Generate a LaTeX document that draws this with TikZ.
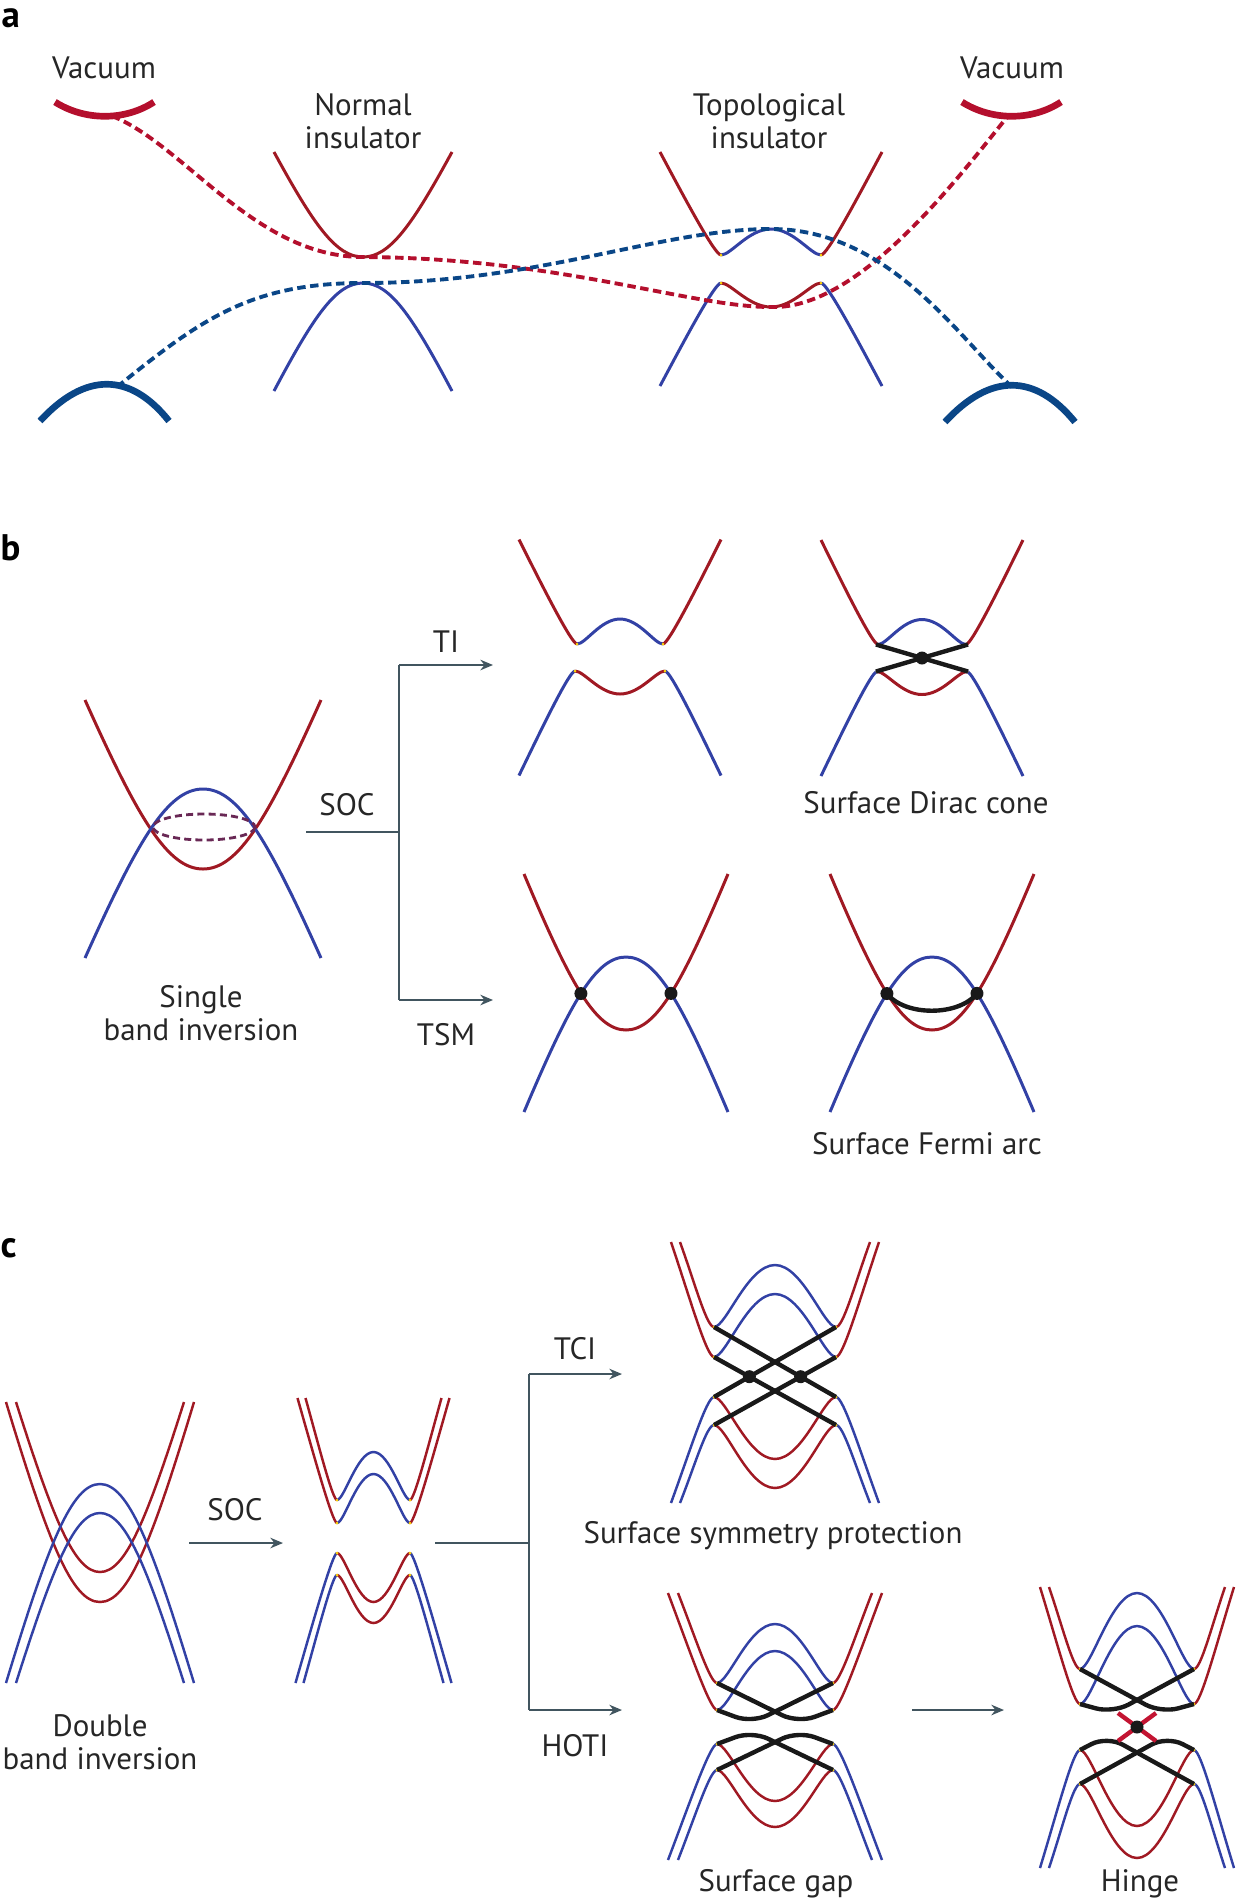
\documentclass[tikz,border=0pt]{standalone}
\usepackage{fontspec}
\setmainfont{PT Sans}
\usetikzlibrary{arrows.meta, calc, intersections}

\definecolor{bandred}{RGB}{160,25,35}
\definecolor{bandblue}{RGB}{50,65,165}
\definecolor{vacred}{RGB}{180,15,45}
\definecolor{vacblue}{RGB}{10,70,135}
\definecolor{arrowgray}{RGB}{65,85,95}
\definecolor{hingered}{RGB}{195,20,50}
\definecolor{loopcol}{RGB}{105,40,85}

\tikzset{
  band/.style={line width=0.85pt},
  knee/.style={fill=yellow!70!orange},
  surf/.style={line width=1.25pt, black!90},
  vacarc/.style={line width=1.9pt},
  dashline/.style={line width=1.1pt, dash pattern=on 2.4pt off 1.3pt},
  loopdash/.style={draw=loopcol, line width=0.8pt, dash pattern=on 2pt off 1.2pt},
  conn/.style={draw=arrowgray, line width=0.5pt},
  arr/.style={conn, -{Stealth[length=3.6pt, width=3pt]}},
  dot/.style={circle, fill=black!90, inner sep=0pt, minimum size=3.7pt},
  lab/.style={font=\fontsize{8.8}{9.4}\selectfont, inner sep=0pt, text=black!85},
  panel/.style={font=\fontsize{10.5}{12}\selectfont\bfseries, inner sep=0pt, anchor=base west}
}

% parabola-like band: [style] x centre, vertex y, half width, end y
\newcommand{\pbola}[5][]{%
  \draw[band,#1] ({#2-#4},#5) .. controls ({#2-0.55*#4},{#5+0.7*(#3-#5)}) and ({#2-0.3*#4},#3) .. (#2,#3)
    .. controls ({#2+0.3*#4},#3) and ({#2+0.55*#4},{#5+0.7*(#3-#5)}) .. ({#2+#4},#5);}

% inverted band line, local coords: knee x, knee y, hump y, top x, top y, flank colour, hump colour
\newcommand{\wline}[7]{%
  \draw[band,#6] (-#4,-#5) .. controls ({-#4+0.45*(#4-#1)},{-#5+0.5*(#5-#2)}) and ({-1.12*#1},-#2) .. (-#1,-#2);
  \draw[band,#7] (-#1,-#2) .. controls ({-0.8*#1},-#2) and ({-0.45*#1},-#3) .. (0,-#3)
    .. controls ({0.45*#1},-#3) and ({0.8*#1},-#2) .. (#1,-#2);
  \draw[band,#6] (#1,-#2) .. controls ({1.12*#1},-#2) and ({#4-0.45*(#4-#1)},{-#5+0.5*(#5-#2)}) .. (#4,-#5);
  \fill[knee] (-#1,-#2) circle (1.5) (#1,-#2) circle (1.5);}

\begin{document}
\begin{tikzpicture}[x=0.01cm, y=-0.01cm]
  \useasboundingbox (0,0) rectangle (1247,1902);

  % panel a
  \node[panel] (la) at (1,27) {a};
  \node[lab] (vacl) at (104,68) {Vacuum};
  \node[lab] (vacr) at (1012,68) {Vacuum};
  \node[lab, align=center] (nil) at (363,121) {Normal\\insulator};
  \node[lab, align=center] (til) at (769,121) {Topological\\insulator};
  \draw[vacarc, vacred] (55,102) .. controls (85,121) and (125,121) .. (154,102);
  \draw[vacarc, vacred] (962,102) .. controls (992,121) and (1032,121) .. (1061,102);
  \draw[vacarc, vacblue] (40,421) .. controls (85,372) and (130,372) .. (169,421);
  \draw[vacarc, vacblue] (945,422) .. controls (990,373) and (1035,373) .. (1075,422);
  \coordinate (vrl) at (112,116);
  \coordinate (vrr) at (1008,116);
  \coordinate (vbl) at (117,387);
  \coordinate (vbr) at (1012,387);
  \pbola[bandred]{363}{257}{89}{152}
  \pbola[bandblue]{363}{283}{89}{391}
  \coordinate (niv) at (363,257);
  \coordinate (nip) at (363,283);
  \begin{scope}[shift={(771,269)}]
    \wline{50}{14}{40}{111}{117}{bandred}{bandblue}
    \begin{scope}[yscale=-1]
      \wline{50}{14}{38}{111}{117}{bandblue}{bandred}
    \end{scope}
    \coordinate (tidip) at (0,38);
    \coordinate (tipk) at (0,-40);
  \end{scope}
  \draw[dashline, vacred] (vrl) .. controls (185,145) and (255,257) .. (niv)
    .. controls (560,258) and (690,307) .. (tidip) .. controls (860,310) and (960,175) .. (vrr);
  \draw[dashline, vacblue] (vbl) .. controls (200,320) and (250,283) .. (nip)
    .. controls (540,283) and (660,229) .. (tipk) .. controls (890,229) and (960,340) .. (vbr);

  % panel b
  \node[panel] (lb) at (0,560) {b};
  \pbola[bandred]{203}{869}{118}{700}
  \pbola[bandblue]{203}{789}{118}{958}
  \draw[loopdash] (204,827) ellipse [x radius=51, y radius=13];
  \node[lab, align=center] (sbi) at (201,1013) {Single\\band inversion};
  \node[lab] (socb) at (347,805) {SOC};
  \node[lab] (tib) at (446,642) {TI};
  \node[lab] (tsmb) at (446,1035) {TSM};
  \coordinate (bs) at (306,832);
  \coordinate (bf) at (399,832);
  \coordinate (bft) at (399,665);
  \coordinate (bfb) at (399,1000);
  \coordinate (bti) at (493,665);
  \coordinate (btsm) at (493,1000);
  \draw[conn] (bs) -- (bf);
  \draw[conn] (bft) -- (bfb);
  \draw[arr] (bft) -- (bti);
  \draw[arr] (bfb) -- (btsm);
  \begin{scope}[shift={(620,657.5)}]
    \wline{43}{13.5}{38.5}{101}{118}{bandred}{bandblue}
    \begin{scope}[yscale=-1]
      \wline{45}{13.5}{36.5}{101}{118}{bandblue}{bandred}
    \end{scope}
  \end{scope}
  \begin{scope}[shift={(922,658)}]
    \wline{44}{13.5}{38.5}{101}{118}{bandred}{bandblue}
    \begin{scope}[yscale=-1]
      \wline{45}{13.5}{36.5}{101}{118}{bandblue}{bandred}
    \end{scope}
    \coordinate (dul) at (-46,-13.5);
    \coordinate (dur) at (46,-13.5);
    \coordinate (dll) at (-46,13.5);
    \coordinate (dlr) at (46,13.5);
  \end{scope}
  \draw[surf] (dul) -- (dlr);
  \draw[surf] (dll) -- (dur);
  \node[dot] (dcone) at (922,658) {};
  \node[lab] (sdc) at (926,803) {Surface Dirac cone};
  % Weyl points
  \pbola[bandred, name path=tsmr]{626}{1030}{102}{874}
  \pbola[bandblue, name path=tsmb]{626}{957}{102}{1112}
  \path[name intersections={of=tsmr and tsmb, name=tx}];
  \node[dot] (w1) at (tx-1) {};
  \node[dot] (w2) at (tx-2) {};
  \pbola[bandred, name path=fr]{932}{1030}{102}{874}
  \pbola[bandblue, name path=fb]{932}{957}{102}{1112}
  \path[name intersections={of=fr and fb, name=fx}];
  \draw[surf] (fx-1) .. controls +(18,23) and +(-18,23) .. (fx-2);
  \node[dot] (fa1) at (fx-1) {};
  \node[dot] (fa2) at (fx-2) {};
  \node[lab] (sfa) at (927,1144) {Surface Fermi arc};

  % panel c
  \node[panel] (lc) at (0,1257) {c};
  \begin{scope}[band/.style={line width=0.7pt}]
    \pbola[bandred]{100}{1602}{94}{1402}
    \pbola[bandred]{100}{1572}{84}{1402}
    \pbola[bandblue]{100}{1484}{94}{1683}
    \pbola[bandblue]{100}{1513}{84}{1683}
    \node[lab, align=center] (dbi) at (100,1742) {Double\\band inversion};
    \coordinate (cs1) at (189,1543);
    \coordinate (cs2) at (283,1543);
    \draw[arr] (cs1) -- (cs2);
    \node[lab] (socc) at (235,1510) {SOC};
    % after SOC
    \begin{scope}[shift={(373.5,1538)}]
      \wline{36.5}{38}{86}{68}{140}{bandred}{bandblue}
      \wline{36.5}{15}{64}{76}{140}{bandred}{bandblue}
      \begin{scope}[yscale=-1]
        \wline{36.5}{15}{64}{78}{145}{bandblue}{bandred}
        \wline{36.5}{37}{85}{70}{145}{bandblue}{bandred}
      \end{scope}
    \end{scope}
    \coordinate (cf0) at (435,1543);
    \coordinate (cf) at (529,1543);
    \coordinate (cft) at (529,1374);
    \coordinate (cfb) at (529,1710);
    \coordinate (ctci) at (622,1374);
    \coordinate (choti) at (622,1710);
    \draw[conn] (cf0) -- (cf);
    \draw[conn] (cft) -- (cfb);
    \draw[arr] (cft) -- (ctci);
    \draw[arr] (cfb) -- (choti);
    \node[lab] (tcic) at (575,1349) {TCI};
    \node[lab] (hotic) at (575,1746) {HOTI};
    % TCI
    \begin{scope}[shift={(775,1377)}]
      \wline{61}{50}{112}{95}{135}{bandred}{bandblue}
      \wline{61}{20}{83}{104}{135}{bandred}{bandblue}
      \begin{scope}[yscale=-1]
        \wline{61}{20}{82}{104}{126}{bandblue}{bandred}
        \wline{61}{48}{111}{95}{126}{bandblue}{bandred}
      \end{scope}
      \foreach \n/\y in {A/-50, B/-20, C/20, D/48}{
        \coordinate (t\n l) at (-61,\y);
        \coordinate (t\n r) at (61,\y);
      }
    \end{scope}
    \draw[surf] (tAl) -- (tCr);
    \draw[surf] (tAr) -- (tCl);
    \draw[surf] (tBl) -- (tDr);
    \draw[surf] (tBr) -- (tDl);
    \node[dot] (tcil) at (intersection of tAr--tCl and tBl--tDr) {};
    \node[dot] (tcir) at (intersection of tAl--tCr and tBr--tDl) {};
    \node[lab] (ssp) at (773,1536) {Surface symmetry protection};
    % surface gap
    \begin{scope}[shift={(775,1727)}]
      \wline{58}{44}{103}{97}{134}{bandred}{bandblue}
      \wline{58}{17}{76}{107}{134}{bandred}{bandblue}
      \begin{scope}[yscale=-1]
        \wline{58}{17}{74}{107}{133}{bandblue}{bandred}
        \wline{58}{43}{100}{97}{133}{bandblue}{bandred}
      \end{scope}
      \foreach \n/\y in {A/-44, B/-17, C/17, D/43}{
        \coordinate (g\n l) at (-58,\y);
        \coordinate (g\n r) at (58,\y);
      }
      \draw[surf, rounded corners=5] (gAl) -- (23,-4) -- (gBr);
      \draw[surf, rounded corners=5] (gAr) -- (-23,-4) -- (gBl);
      \draw[surf, rounded corners=5] (gCl) -- (-23,4) -- (gDr);
      \draw[surf, rounded corners=5] (gCr) -- (23,4) -- (gDl);
    \end{scope}
    \node[lab] (sgap) at (776,1884) {Surface gap};
    \coordinate (gout) at (912,1710);
    \coordinate (hin) at (1004,1710);
    \draw[arr] (gout) -- (hin);
    % hinge
    \begin{scope}[shift={(1137,1727)}]
      \wline{57}{58}{134}{88}{140}{bandred}{bandblue}
      \wline{57}{23}{101}{97}{140}{bandred}{bandblue}
      \begin{scope}[yscale=-1]
        \wline{57}{23}{99}{97}{141}{bandblue}{bandred}
        \wline{57}{57}{131}{88}{141}{bandblue}{bandred}
      \end{scope}
      \foreach \n/\y in {A/-58, B/-23, C/23, D/57}{
        \coordinate (h\n l) at (-57,\y);
        \coordinate (h\n r) at (57,\y);
      }
      \draw[surf, rounded corners=5] (hAl) -- (24,-14) -- (hBr);
      \draw[surf, rounded corners=5] (hAr) -- (-24,-14) -- (hBl);
      \draw[surf, rounded corners=5] (hCl) -- (-30,9) -- (hDr);
      \draw[surf, rounded corners=5] (hCr) -- (30,9) -- (hDl);
      \draw[surf, hingered] (-19,-14) -- (19,14);
      \draw[surf, hingered] (19,-14) -- (-19,14);
    \end{scope}
    \node[dot] (hdot) at (1137,1727) {};
    \node[lab] (hinge) at (1140,1884) {Hinge};
  \end{scope}
\end{tikzpicture}
\end{document}
